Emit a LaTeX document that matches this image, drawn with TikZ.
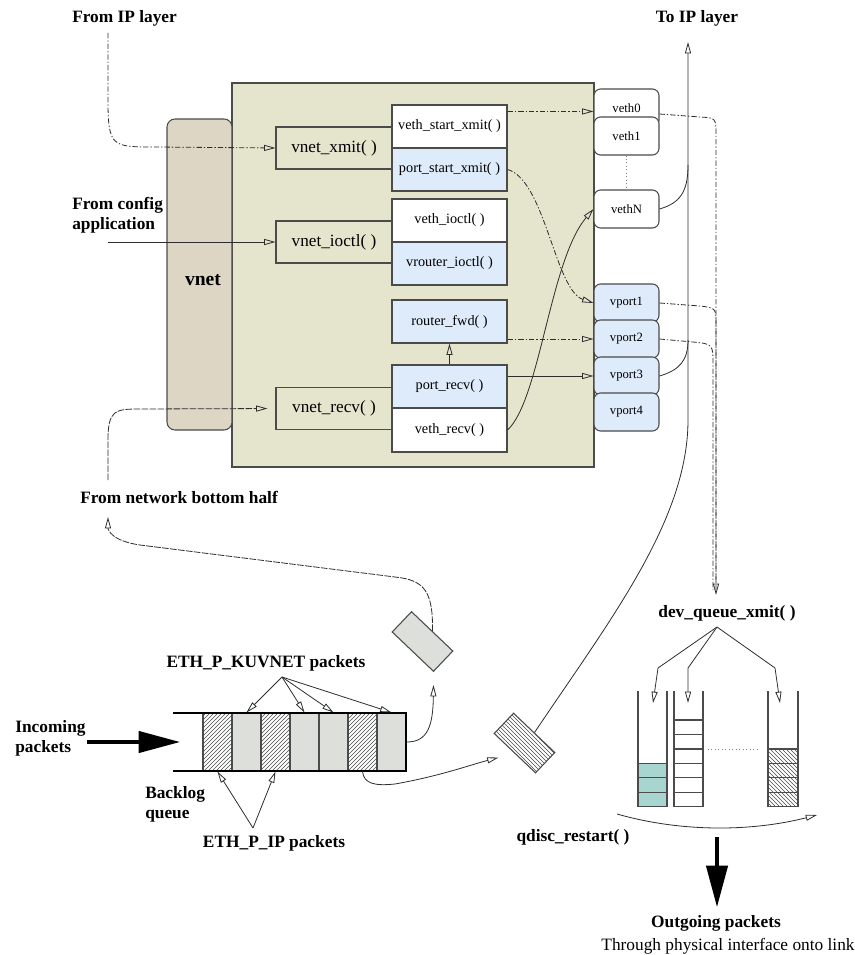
\documentclass[tikz,border=0pt]{standalone}
\usepackage{fontspec}
\setmainfont{Liberation Serif}
\usetikzlibrary{arrows.meta,patterns,calc}

\definecolor{corefill}{RGB}{229,228,205}
\definecolor{vnetfill}{RGB}{222,214,197}
\definecolor{portfill}{RGB}{221,235,250}
\definecolor{pktfill}{RGB}{220,223,218}
\definecolor{tealfill}{RGB}{168,213,207}
\definecolor{edge}{RGB}{75,75,75}
\definecolor{wire}{RGB}{45,45,45}

\begin{document}
\begin{tikzpicture}[x=0.75pt,y=-0.75pt,
  panel/.style={draw=edge, fill=corefill, line width=0.8pt, minimum width=271.5pt, minimum height=288pt, inner sep=0pt},
  vnetbar/.style={draw=edge, fill=vnetfill, line width=0.8pt, rounded corners=6pt, minimum width=48.75pt, minimum height=233.25pt, inner sep=0pt},
  call/.style={draw=edge, fill=corefill, line width=0.8pt, minimum width=87pt, minimum height=31.5pt, inner sep=0pt, font=\fontsize{12.9}{14}\selectfont},
  fn/.style={draw=edge, fill=white, line width=0.8pt, minimum width=86.25pt, minimum height=32.25pt, inner sep=0pt, font=\fontsize{10.7}{12}\selectfont},
  dev/.style={draw=edge, fill=white, line width=0.8pt, rounded corners=5pt, minimum width=48.75pt, minimum height=28.5pt, inner sep=0pt, font=\fontsize{9.5}{11}\selectfont},
  port/.style={dev, fill=portfill},
  lbl/.style={font=\fontsize{13}{15}\selectfont\bfseries, inner sep=0pt},
  flow/.style={draw=wire, line width=0.6pt, -{Triangle[open,length=8.5pt,width=4.5pt]}},
  plain/.style={draw=wire, line width=0.6pt},
  dashdot/.style={dash pattern=on 4pt off 1.5pt on 1pt off 1.5pt},
  longdash/.style={dash pattern=on 5pt off 1pt},
  bigflow/.style={draw=black, line width=2.4pt, -{Triangle[length=31pt,width=16pt]}},
  cell/.style={draw=edge, line width=0.8pt, minimum width=21.75pt, minimum height=43.5pt, inner sep=0pt},
  qcell/.style={draw=edge, line width=1pt, minimum width=21.75pt, minimum height=10.9pt, inner sep=0pt},
  pkt/.style={draw=edge, line width=0.8pt, rotate=-43.6, minimum width=42.75pt, minimum height=21pt, inner sep=0pt}
]
\useasboundingbox (0,0) rectangle (854,955);

% ---------- vnet driver panel ----------
\node[panel] (core) at (413,275) {};
\node[vnetbar] (vnet) at (199.5,274.5) {};
\node[font=\fontsize{14.7}{16}\selectfont\bfseries] (vnetlbl) at (203,280) {vnet};

\node[call] (vnetxmit)  at (334,148)   {vnet\_xmit( )};
\node[call] (vnetioctl) at (334,242)   {vnet\_ioctl( )};
\node[call] (vnetrecv)  at (334,408.5) {vnet\_recv( )};

\node[fn] (vethsx)              at (449.5,126.5) {veth\_start\_xmit( )};
\node[fn,fill=portfill] (portsx) at (449.5,169.5) {port\_start\_xmit( )};
\node[fn] (vethioctl)           at (449.5,220.5) {veth\_ioctl( )};
\node[fn,fill=portfill] (vrioctl) at (449.5,263.5) {vrouter\_ioctl( )};
\node[fn,fill=portfill] (rfwd)   at (449.5,321.5) {router\_fwd( )};
\node[fn,fill=portfill] (portrecv) at (449.5,386.5) {port\_recv( )};
\node[fn,minimum height=33pt] (vethrecv) at (449.5,430) {veth\_recv( )};

% ---------- virtual interfaces ----------
\node[dev] (veth0) at (626.5,108) {veth0};
\node[dev] (veth1) at (626.5,136) {veth1};
\node[dev] (vethN) at (626.5,209) {vethN};
\draw[gray, dotted, line width=0.6pt] (veth1.south) -- (vethN.north);
\node[port] (vport1) at (626.5,303) {vport1};
\node[port] (vport2) at (626.5,339) {vport2};
\node[port] (vport3) at (626.5,376) {vport3};
\node[port] (vport4) at (626.5,412) {vport4};

% ---------- outside labels ----------
\node[lbl, anchor=west] (fromip) at (72,18) {From IP layer};
\node[lbl, anchor=west, align=left] (fromcfg) at (72,215) {From config\\application};
\node[lbl] (toip) at (697,18) {To IP layer};
\node[lbl, anchor=west] (fromnbh) at (80,497) {From network bottom half};

\coordinate (ipsrc) at (108,33);
\coordinate (cfgsrc) at (108,242);
\coordinate (nbhout) at (108,480);
\coordinate (nbhin) at (108,517);
\coordinate (ipout) at (688,42);

% ---------- connectors into the panel ----------
\draw[flow, dashdot] (ipsrc) -- (108,100) .. controls (108,147) and (112,147) .. (155,147) -- (vnetxmit.west);
\draw[flow] (cfgsrc) -- (vnetioctl.west);
\draw[flow, longdash, shorten >=6pt] (nbhout) -- (108,440) .. controls (108,410) and (115,409) .. (140,409) -- (vnetrecv.west);

% ---------- connectors inside the panel ----------
\coordinate (sxout) at ($(vethsx.north east)+(0,7)$);
\draw[flow, dashdot] (sxout) -- (sxout -| veth0.west);
\draw[flow, dashdot] (portsx.east) .. controls (545,180) and (555,290) .. (vport1.west);
\draw[flow, dashdot] (rfwd.east |- vport2.west) -- (vport2.west);
\draw[flow] (portrecv.east |- vport3.west) -- (vport3.west);
\draw[flow] (portrecv.north) -- (rfwd.south);
\draw[flow] (vethrecv.east) .. controls (540,400) and (550,260) .. (vethN.west);

% ---------- towards the IP layer ----------
\draw[plain] (vethN.east) .. controls (680,203) and (688,192) .. (688,165);
\draw[plain] (vport3.east) .. controls (680,370) and (688,360) .. (688,340);

% ---------- towards dev_queue_xmit ----------
\node[lbl] (devq) at (727,613) {dev\_queue\_xmit( )};
\coordinate (devqin) at (716,595);
\coordinate (v0out) at ($(veth0.east)+(0,6)$);
\draw[flow, dashdot] (v0out) -- (700,117) .. controls (716,118) .. (716,135) -- (devqin);
\draw[plain, dashdot] (vport1.east) -- (700,306) .. controls (716,308) .. (716,325) -- (716,590);
\draw[plain, dashdot] (vport2.east) -- (693,342) .. controls (713,344) .. (713,365) -- (713,590);

% ---------- backlog queue ----------
\node[cell, pattern=north east lines, pattern color=edge] (c1) at (217.5,742) {};
\node[cell, fill=pktfill] (c2) at (246.5,742) {};
\node[cell, pattern=north east lines, pattern color=edge] (c3) at (275.5,742) {};
\node[cell, fill=pktfill] (c4) at (304.5,742) {};
\node[cell, fill=pktfill] (c5) at (333.5,742) {};
\node[cell, pattern=north east lines, pattern color=edge] (c6) at (362.5,742) {};
\node[cell, fill=pktfill] (c7) at (391.5,742) {};
\draw[black, line width=1.8pt] (173,713) -- (406,713) -- (406,771) -- (173,771);
\coordinate (qend) at (407,742);

\node[lbl, anchor=west, align=left] (incoming) at (15,738) {Incoming\\packets};
\coordinate (inA) at (87,742);
\coordinate (inB) at (180,742);
\draw[bigflow] (inA) -- (inB);

\node[lbl, anchor=west, align=left] (backlog) at (145,804) {Backlog\\queue};
\node[lbl] (kuv) at (266,663) {ETH\_P\_KUVNET packets};
\coordinate (kuvsrc) at (282,677);
\foreach \c in {c2,c4,c5,c7} \draw[flow] (kuvsrc) -- (\c.north);
\node[lbl] (ethip) at (274,843) {ETH\_P\_IP packets};
\coordinate (ipsrc2) at (253,828);
\foreach \c in {c1,c3} \draw[flow] (ipsrc2) -- (\c.south);

% ---------- packets in transit ----------
\node[pkt, fill=pktfill] (gpkt) at (422.5,641.5) {};
\node[pkt, pattern=north west lines, pattern color=edge] (hpkt) at (524.5,743) {};

\draw[flow] (qend) .. controls (428,742) and (433,725) .. ($(gpkt.south east)+(0,13)$);
\draw[flow, longdash] (gpkt.north) .. controls (433,592) and (425,580) .. (395,577) -- (140,545) .. controls (112,541) and (108,530) .. (nbhin);
\draw[flow] (c6.south) .. controls (364,784) and (375,786) .. (395,784) .. controls (440,776) and (470,765) .. ($(hpkt.south)+(-16,4)$);
\draw[flow] (hpkt.north) .. controls (610,620) and (688,520) .. (688,420) -- (ipout);

% ---------- device queues ----------
\draw[edge, line width=0.8pt] (638,691) -- (638,807) (667,691) -- (667,807);
\draw[edge, line width=0.8pt] (674,691) -- (674,807) (703,691) -- (703,807);
\draw[edge, line width=0.8pt] (768,691) -- (768,807) (798,691) -- (798,807);
\foreach \i/\y in {1/770.5,2/785,3/799.5}
  \node[qcell, fill=tealfill] (qa\i) at (652.5,\y) {};
\foreach \i/\y in {1/727.25,2/741.75,3/756.25,4/770.5,5/785,6/799.5}
  \node[qcell, fill=white] (qb\i) at (688.5,\y) {};
\foreach \i/\y in {1/756.25,2/770.5,3/785,4/799.5}
  \node[qcell, minimum width=22.5pt, pattern=north west lines, pattern color=edge] (qc\i) at (783,\y) {};
\draw[gray, dotted, line width=0.6pt] (708,749) -- (757,749);

\coordinate (dqx) at (717,627);
\coordinate (q1in) at (653,703);
\coordinate (q2in) at (688,703);
\coordinate (q3in) at (780,703);
\draw[flow] (dqx) -- (658,668) -- (q1in);
\draw[flow] (dqx) -- (688,668) -- (q2in);
\draw[flow] (dqx) -- (775,668) -- (q3in);

\coordinate (arcA) at (617,814);
\coordinate (arcB) at (817,815);
\draw[flow] (arcA) .. controls (680,832) and (750,832) .. (arcB);
\node[lbl] (qdisc) at (573,837) {qdisc\_restart( )};

\coordinate (outA) at (717,837);
\coordinate (outB) at (717,907);
\draw[bigflow] (outA) -- (outB);
\node[lbl] (outgoing) at (716,923) {Outgoing packets};
\node[font=\fontsize{13}{15}\selectfont, inner sep=0pt] (through) at (728,946) {Through physical interface onto link};
\end{tikzpicture}
\end{document}
